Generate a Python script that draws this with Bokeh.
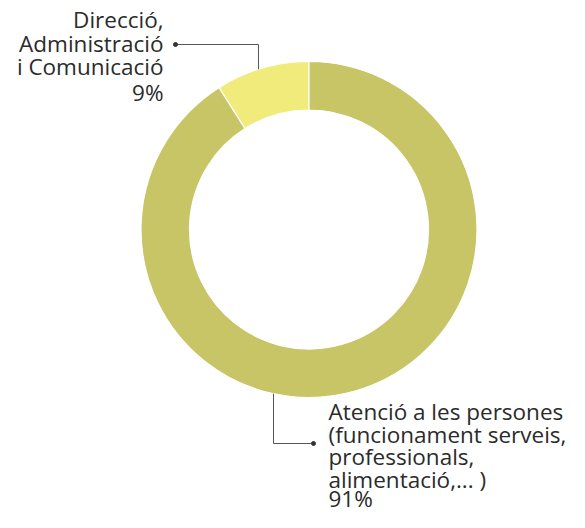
import math
from bokeh.plotting import figure
from bokeh.models import Range1d, ColumnDataSource
from bokeh.core.properties import value
from bokeh.embed import file_html
from bokeh.resources import INLINE

# ---- data ----
categories = ["Direcció, Administració i Comunicació",
              "Atenció a les persones (funcionament serveis, professionals, alimentació,... )"]
values = [9, 91]
colors = ["#F0EB7B", "#C8C567"]
label_lines = [["Direcció,", "Administració", "i Comunicació", "9%"],
               ["Atenció a les persones", "(funcionament serveis,", "professionals,",
                "alimentació,... )", "91%"]]

# ---- geometry (pixel-like data units; y is negated page y) ----
W, H = 569, 512
CX, CY = 308.5, -229.0
R_IN, R_OUT = 119.5, 168.0

p = figure(width=W, height=H, output_backend="svg", toolbar_location=None,
           x_range=Range1d(0, W), y_range=Range1d(-H, 0),
           min_border=0, outline_line_color=None, background_fill_color="white",
           border_fill_color="white")
p.axis.visible = False
p.grid.visible = False

total = sum(values)
starts, ends = [], []
a = math.pi / 2
for v in values:
    starts.append(a)
    a += 2 * math.pi * v / total
    ends.append(a)

src = ColumnDataSource(dict(cat=categories, val=values, color=colors,
                            start=starts, end=ends))
p.annular_wedge(x=CX, y=CY, inner_radius=R_IN, outer_radius=R_OUT,
                start_angle="start", end_angle="end", fill_color="color",
                line_color="white", line_width=1.2, source=src)

# ---- leader lines ----
lc = "#555555"
# top leader
ang_t = math.radians(107.5)
xt = CX + R_OUT * math.cos(ang_t)
yt = CY + R_OUT * math.sin(ang_t)
p.line([175, xt, xt], [-44, -44, yt], line_color=lc, line_width=1)
p.scatter([175], [-44], size=4, color="#333333")
# bottom leader
ang_b = math.radians(257.8)
xb = CX + R_OUT * math.cos(ang_b)
yb = CY + R_OUT * math.sin(ang_b)
p.line([xb, xb, 313], [yb, -443, -443], line_color=lc, line_width=1)
p.scatter([313], [-443], size=4, color="#333333")

# ---- labels ----
font = value("Open Sans")
tc = "#2b2b2b"
fs = "22.5px"
top_y = [-19, -42.5, -66, -92]
p.text(x=[163] * 4, y=top_y, text=label_lines[0], text_align="right",
       text_baseline="alphabetic", text_font=font, text_font_size=fs,
       text_color=tc)
bot_y = [-411, -433.5, -456, -478.5, -498]
p.text(x=[328] * 5, y=bot_y, text=label_lines[1], text_align="left",
       text_baseline="alphabetic", text_font=font, text_font_size=fs,
       text_color=tc)

open("out.html", "w").write(file_html(p, INLINE))
